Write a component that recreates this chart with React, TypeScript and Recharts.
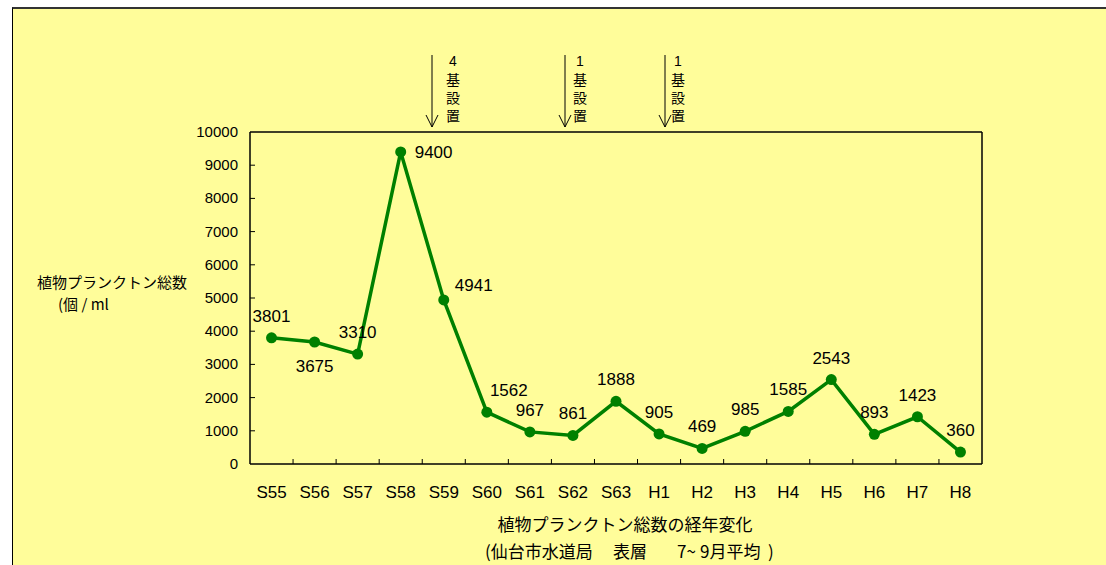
import React from "react";
import { LineChart, Line, XAxis, YAxis, LabelList } from "recharts";

// 7〜9月平均の植物プランクトン総数（個/ml）
const years = ["S55", "S56", "S57", "S58", "S59", "S60", "S61", "S62", "S63", "H1", "H2", "H3", "H4", "H5", "H6", "H7", "H8"];
const counts = [3801, 3675, 3310, 9400, 4941, 1562, 967, 861, 1888, 905, 469, 985, 1585, 2543, 893, 1423, 360];
const yTicks = [0, 1000, 2000, 3000, 4000, 5000, 6000, 7000, 8000, 9000, 10000];

// 施設の設置時期（矢印）
const installs = [
  { label: "4", x: 432, textX: 453 },
  { label: "1", x: 565, textX: 580 },
  { label: "1", x: 665, textX: 678 },
];

const data = years.map((year, i) => ({ year, count: counts[i] }));

const W = 1106;
const H = 565;
const PLOT = { left: 250, top: 132, right: 982, bottom: 464 };
const BAND = (PLOT.right - PLOT.left) / years.length;

const FONT = "'Liberation Sans', Arial, 'Noto Sans CJK JP', sans-serif";
const JP = "'Noto Sans CJK JP', 'Liberation Sans', sans-serif";
const GREEN = "#008000";
const BG = "#FFFD9A";

// ラベル位置（既定は点の真上）
const placement: Record<number, string> = { 1: "below", 3: "right", 4: "upright", 5: "upright" };

function XTick(props: any) {
  const { x, payload, index } = props;
  return (
    <g>
      {index > 0 && (
        <line x1={x - BAND / 2} x2={x - BAND / 2} y1={PLOT.bottom} y2={PLOT.bottom - 5} stroke="#000" strokeWidth={1} />
      )}
      <text x={x} y={PLOT.bottom + 34} textAnchor="middle" fontSize={17} fontFamily={FONT} fill="#000">
        {payload.value}
      </text>
    </g>
  );
}

function YTick(props: any) {
  const { y, payload } = props;
  return (
    <g>
      {payload.value > 0 && payload.value < 10000 && (
        <line x1={PLOT.left} x2={PLOT.left + 5} y1={y} y2={y} stroke="#000" strokeWidth={1} />
      )}
      <text x={PLOT.left - 12} y={y + 5} textAnchor="end" fontSize={15} fontFamily={FONT} fill="#000">
        {payload.value}
      </text>
    </g>
  );
}

function ValueLabel(props: any) {
  const { x, y, value, index } = props;
  const mode = placement[index];
  let tx = x;
  let ty = y - 22;
  let anchor: "middle" | "start" = "middle";
  if (mode === "below") ty = y + 24;
  if (mode === "right") {
    tx = x + 14;
    ty = y;
    anchor = "start";
  }
  if (mode === "upright") {
    tx = x + (index === 4 ? 30 : 22);
    ty = y - (index === 4 ? 15 : 22);
  }
  return (
    <text x={tx} y={ty + 6} textAnchor={anchor} fontSize={17} fontFamily={FONT} fill="#000">
      {value}
    </text>
  );
}

function Arrow({ x }: { x: number }) {
  return (
    <g stroke="#000" strokeWidth={1} fill="none">
      <line x1={x} x2={x} y1={55} y2={127} />
      <polyline points={`${x - 6},115 ${x},127 ${x + 6},115`} />
    </g>
  );
}

export default function App() {
  return (
    <div style={{ position: "absolute", left: 0, top: 0, width: W, height: H, background: "#fff", overflow: "hidden" }}>
      <div
        style={{
          position: "absolute",
          left: 12,
          top: 7,
          right: 0,
          bottom: 0,
          background: BG,
          borderTop: "2px solid #333",
          borderLeft: "1.5px solid #000",
        }}
      />
      <div style={{ position: "absolute", left: 0, top: 0 }}>
        <LineChart width={W} height={H} data={data} margin={{ top: 132, right: 124, bottom: 71, left: 190 }}>
          <XAxis
            dataKey="year"
            interval={0}
            height={30}
            padding={{ left: BAND / 2, right: BAND / 2 }}
            tickLine={false}
            axisLine={{ stroke: "#000", strokeWidth: 1.5 }}
            tick={<XTick />}
          />
          <YAxis
            width={60}
            domain={[0, 10000]}
            ticks={yTicks}
            interval={0}
            tickLine={false}
            axisLine={{ stroke: "#000", strokeWidth: 1.5 }}
            tick={<YTick />}
          />
          <Line
            dataKey="count"
            stroke={GREEN}
            strokeWidth={3.5}
            dot={{ r: 5.5, fill: GREEN, stroke: GREEN, strokeWidth: 0 }}
            activeDot={false}
            isAnimationActive={false}
          >
            <LabelList dataKey="count" content={<ValueLabel />} />
          </Line>
        </LineChart>
      </div>
      <svg width={W} height={H} style={{ position: "absolute", left: 0, top: 0, pointerEvents: "none" }}>
        <line x1={PLOT.left} x2={PLOT.right} y1={PLOT.top} y2={PLOT.top} stroke="#000" strokeWidth={1.5} />
        <line x1={PLOT.right} x2={PLOT.right} y1={PLOT.top} y2={PLOT.bottom} stroke="#000" strokeWidth={1.5} />

        {installs.map((a, i) => (
          <g key={i}>
            <Arrow x={a.x} />
            <text x={a.textX} y={66} textAnchor="middle" fontSize={14} fontFamily={FONT} fill="#000">
              {a.label}
            </text>
            {["基", "設", "置"].map((c, j) => (
              <text key={c} x={a.textX} y={85 + j * 18} textAnchor="middle" fontSize={14} fontFamily={JP} fill="#000">
                {c}
              </text>
            ))}
          </g>
        ))}

        <text x={37} y={288} fontSize={15} fontFamily={JP} fill="#000">
          植物プランクトン総数
        </text>
        <text x={58} y={310} fontSize={15} fontFamily={JP} fill="#000">
          (個 / ml
        </text>

        <text x={625} y={531} textAnchor="middle" fontSize={17} fontFamily={JP} fill="#000">
          植物プランクトン総数の経年変化
        </text>
        <text y={558} fontSize={17} fontFamily={JP} fill="#000">
          <tspan x={485}>(仙台市水道局</tspan>
          <tspan x={613}>表層</tspan>
          <tspan x={677}>7~</tspan>
          <tspan x={700}>9月平均</tspan>
          <tspan x={768}>)</tspan>
        </text>
      </svg>
    </div>
  );
}
